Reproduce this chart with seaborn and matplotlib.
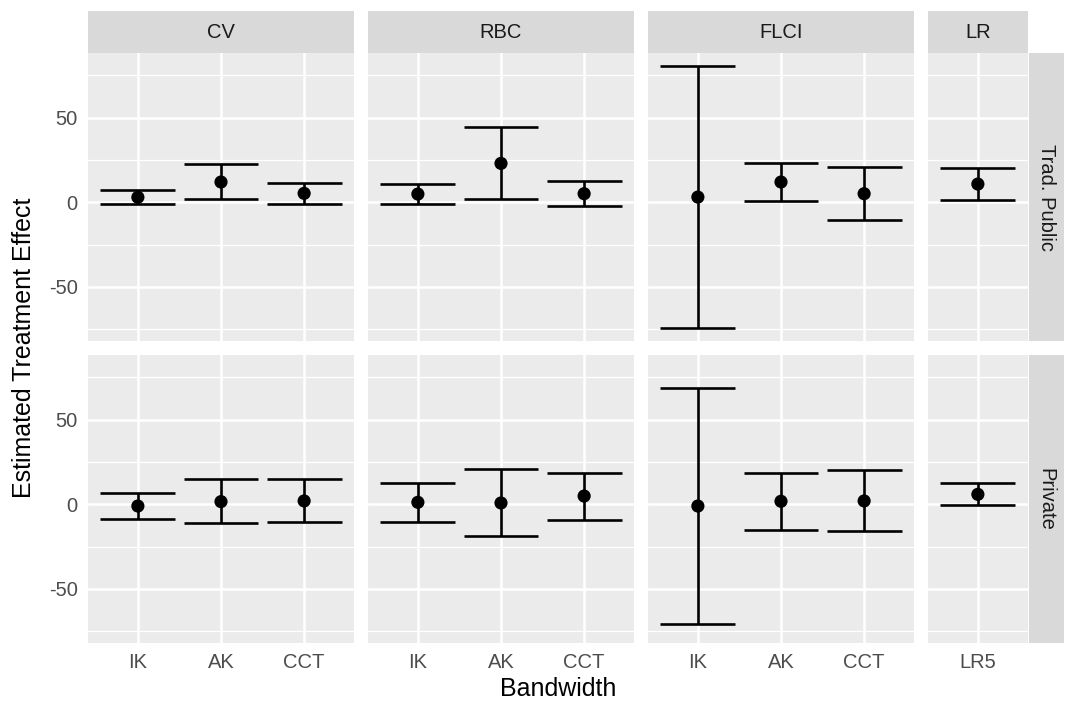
import matplotlib
matplotlib.use("Agg")
import matplotlib.pyplot as plt
import seaborn as sns
import pandas as pd
import numpy as np

sns.set_theme(style="white")
plt.rcParams["font.family"] = ["Liberation Sans", "DejaVu Sans"]

# ---- data ----
methods = ["CV", "RBC", "FLCI", "LR"]
method_bandwidths = {
    "CV": ["IK", "AK", "CCT"],
    "RBC": ["IK", "AK", "CCT"],
    "FLCI": ["IK", "AK", "CCT"],
    "LR": ["LR5"],
}
sectors = ["Trad. Public", "Private"]

public_est = [3.0, 12.0, 5.3, 4.9, 23.0, 5.1, 3.1, 12.0, 5.1, 10.8]
public_lo = [-0.8, 1.8, -0.8, -0.8, 2.0, -2.4, -74.2, 1.0, -10.2, 1.4]
public_hi = [7.3, 22.4, 11.4, 10.8, 44.3, 12.8, 80.5, 23.2, 21.1, 20.5]

private_est = [-1.0, 1.6, 2.0, 1.2, 0.8, 4.9, -1.0, 1.8, 2.0, 5.9]
private_lo = [-8.9, -11.1, -10.7, -10.5, -18.9, -9.1, -71.0, -15.2, -16.0, -0.6]
private_hi = [6.7, 14.8, 14.8, 12.8, 20.9, 18.7, 68.8, 18.5, 20.1, 12.6]

y_ticks = [-50, 0, 50]
y_minor = [-75, -25, 25, 75]

# build long table
rows = []
for sector, est, lo, hi in [("Trad. Public", public_est, public_lo, public_hi),
                            ("Private", private_est, private_lo, private_hi)]:
    i = 0
    for m in methods:
        for bw in method_bandwidths[m]:
            rows.append(dict(sector=sector, method=m, bandwidth=bw,
                             estimate=est[i], lower=lo[i], upper=hi[i]))
            i += 1
df = pd.DataFrame(rows)

# shared y range with ggplot-style 5% expansion
ymin, ymax = df["lower"].min(), df["upper"].max()
pad = 0.05 * (ymax - ymin)
ylim = (ymin - pad, ymax + pad)

# ---- layout (pixels) ----
W, H = 1065, 711
fig = plt.figure(figsize=(W / 100, H / 100), dpi=100)

panel_left, gap = 88, 14
unit = 266 / 3.2          # px per x-unit (discrete range n + 0.2)
row_tops = [53, 355]
row_h = 288
strip_top, strip_h = 11, 42
rstrip_w = 35

BG = "#EBEBEB"
STRIP = "#D9D9D9"
TICK_TXT = "#4D4D4D"
LBL = 14.5


def fig_axes(x0, y0, w, h):
    return fig.add_axes([x0 / W, 1 - (y0 + h) / H, w / W, h / H])


col_x = []
x = panel_left
for m in methods:
    n = len(method_bandwidths[m])
    w = (n + 0.2) * unit
    col_x.append((x, w))
    x += w + gap
right_edge = col_x[-1][0] + col_x[-1][1]

for r, sector in enumerate(sectors):
    for c, m in enumerate(methods):
        x0, w = col_x[c]
        ax = fig_axes(x0, row_tops[r], w, row_h)
        sub = df[(df.sector == sector) & (df.method == m)].reset_index(drop=True)
        pos = np.arange(len(sub))
        ax.set_facecolor(BG)
        for s in ax.spines.values():
            s.set_visible(False)
        # grid
        for yv in y_minor:
            ax.axhline(yv, color="white", lw=0.9, zorder=0)
        for yv in y_ticks:
            ax.axhline(yv, color="white", lw=1.8, zorder=0)
        for p in pos:
            ax.axvline(p, color="white", lw=1.8, zorder=0)
        # error bars
        ax.vlines(pos, sub["lower"], sub["upper"], color="black", lw=1.9, zorder=2)
        ax.hlines(sub["lower"], pos - 0.45, pos + 0.45, color="black", lw=1.9, zorder=2)
        ax.hlines(sub["upper"], pos - 0.45, pos + 0.45, color="black", lw=1.9, zorder=2)
        sns.scatterplot(data=sub, x="bandwidth", y="estimate", ax=ax, color="black",
                        s=90, edgecolor="none", zorder=3, legend=False)
        ax.set_xlim(-0.6, len(sub) - 0.4)
        ax.set_ylim(*ylim)
        ax.set_xlabel("")
        ax.set_ylabel("")
        ax.set_xticks(pos)
        ax.set_yticks(y_ticks)
        ax.tick_params(axis="both", length=4.5, width=1.3, color="#333333",
                       labelsize=LBL, labelcolor=TICK_TXT, pad=3)
        if r == len(sectors) - 1:
            ax.set_xticklabels(sub["bandwidth"])
        else:
            ax.tick_params(axis="x", length=0, labelbottom=False)
        if c == 0:
            ax.set_yticklabels([str(v) for v in y_ticks])
        else:
            ax.tick_params(axis="y", length=0, labelleft=False)

        # top strips
        if r == 0:
            sax = fig_axes(x0, strip_top, w, strip_h)
            sax.set_facecolor(STRIP)
            sax.set_xticks([])
            sax.set_yticks([])
            for s in sax.spines.values():
                s.set_visible(False)
            sax.text(0.5, 0.5, m, ha="center", va="center", fontsize=LBL,
                     color="#1A1A1A", transform=sax.transAxes)

    # right strips
    rax = fig_axes(right_edge + 1, row_tops[r], rstrip_w, row_h)
    rax.set_facecolor(STRIP)
    rax.set_xticks([])
    rax.set_yticks([])
    for s in rax.spines.values():
        s.set_visible(False)
    rax.text(0.5, 0.5, sector, ha="center", va="center", rotation=-90,
             fontsize=LBL, color="#1A1A1A", transform=rax.transAxes)

fig.text((panel_left + right_edge) / 2 / W, 1 - 689 / H, "Bandwidth",
         ha="center", va="center", fontsize=18, color="black")
fig.text(24 / W, 1 - 348 / H, "Estimated Treatment Effect", ha="center",
         va="center", rotation=90, fontsize=18, color="black")

fig.savefig("out.png", dpi=100, facecolor="white")
